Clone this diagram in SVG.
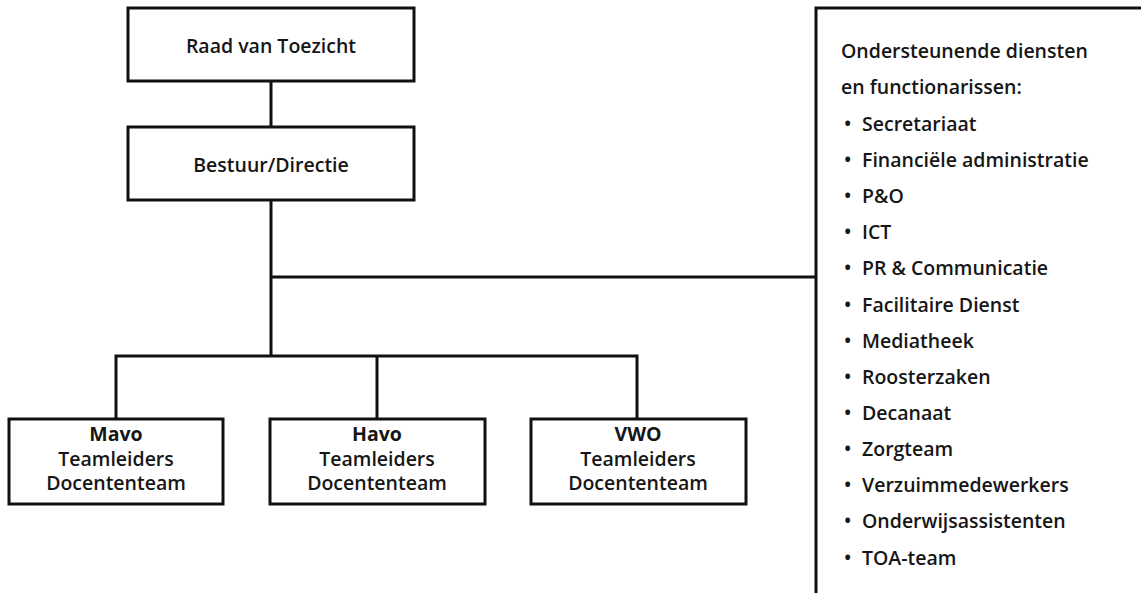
<svg xmlns="http://www.w3.org/2000/svg" width="1141" height="593" viewBox="0 0 1141 593">
<style>
.box{fill:#fff;stroke:#111;stroke-width:3}
.ln{fill:none;stroke:#111;stroke-width:3}
text{font-family:"Open Sans","Noto Sans","Liberation Sans",sans-serif;font-size:19.5px;font-weight:600;fill:#161616}
.c{text-anchor:middle}
.b{font-weight:bold}
</style>
<rect width="1141" height="593" fill="#fff"/>
<g id="connectors">
<path class="ln" d="M271,81 V127"/>
<path class="ln" d="M271,200 V356"/>
<path class="ln" d="M271,277 H816"/>
<path class="ln" d="M116,419 V356 H637 V419"/>
<path class="ln" d="M377,356 V419"/>
</g>
<g id="raad">
<rect class="box" x="128" y="8" width="286" height="73"/>
<text class="c" x="271" y="53">Raad van Toezicht</text>
</g>
<g id="bestuur">
<rect class="box" x="128" y="127" width="286" height="73"/>
<text class="c" x="271" y="172">Bestuur/Directie</text>
</g>
<g id="mavo">
<rect class="box" x="9" y="419" width="214" height="85"/>
<text class="c" x="116" y="441"><tspan class="b">Mavo</tspan><tspan x="116" dy="24.5">Teamleiders</tspan><tspan x="116" dy="24.5">Docententeam</tspan></text>
</g>
<g id="havo">
<rect class="box" x="270" y="419" width="215" height="85"/>
<text class="c" x="377" y="441"><tspan class="b">Havo</tspan><tspan x="377" dy="24.5">Teamleiders</tspan><tspan x="377" dy="24.5">Docententeam</tspan></text>
</g>
<g id="vwo">
<rect class="box" x="531" y="419" width="215" height="85"/>
<text class="c" x="638" y="441"><tspan class="b">VWO</tspan><tspan x="638" dy="24.5">Teamleiders</tspan><tspan x="638" dy="24.5">Docententeam</tspan></text>
</g>
<g id="diensten">
<path class="ln" d="M1145,8 H816 V600"/>
<text x="841" y="58">Ondersteunende diensten</text>
<text x="841" y="94">en functionarissen:</text>
<g id="list">
<text x="844" y="131">•</text><text x="862" y="131">Secretariaat</text>
<text x="844" y="167">•</text><text x="862" y="167">Financiële administratie</text>
<text x="844" y="203">•</text><text x="862" y="203">P&amp;O</text>
<text x="844" y="239">•</text><text x="862" y="239">ICT</text>
<text x="844" y="275">•</text><text x="862" y="275">PR &amp; Communicatie</text>
<text x="844" y="312">•</text><text x="862" y="312">Facilitaire Dienst</text>
<text x="844" y="348">•</text><text x="862" y="348">Mediatheek</text>
<text x="844" y="384">•</text><text x="862" y="384">Roosterzaken</text>
<text x="844" y="420">•</text><text x="862" y="420">Decanaat</text>
<text x="844" y="456">•</text><text x="862" y="456">Zorgteam</text>
<text x="844" y="492">•</text><text x="862" y="492">Verzuimmedewerkers</text>
<text x="844" y="528">•</text><text x="862" y="528">Onderwijsassistenten</text>
<text x="844" y="565">•</text><text x="862" y="565">TOA-team</text>
</g>
</g>
</svg>
